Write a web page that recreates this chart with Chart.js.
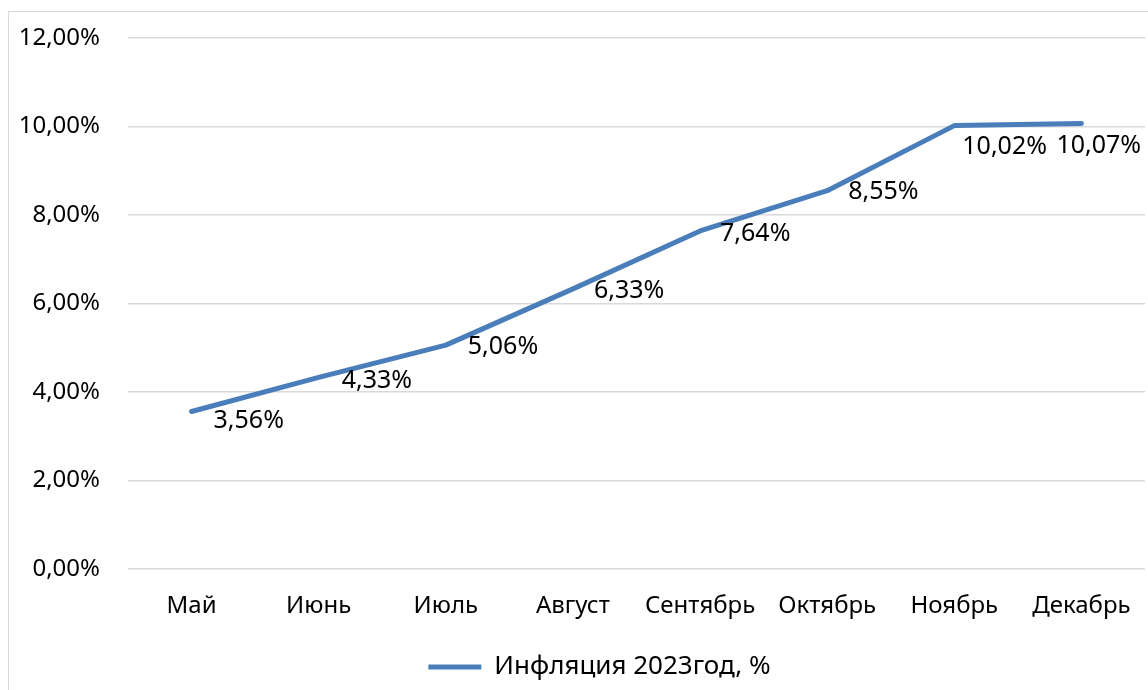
<!DOCTYPE html>
<html lang="ru">
<head>
<meta charset="utf-8">
<title>Инфляция 2023</title>
<script src="https://cdn.jsdelivr.net/npm/chart.js@4.4.0/dist/chart.umd.min.js"></script>
<style>
    html, body { margin: 0; padding: 0; background: #fff; }
    #wrap { position: relative; width: 1148px; height: 690px; overflow: hidden; }
    #frame { position: absolute; left: 8px; top: 11px; width: 1160px; height: 700px; border: 1px solid #d9d9d9; box-sizing: border-box; }
    #inflationChart { position: absolute; left: 0; top: 0; }
</style>
</head>
<body>
<div id="wrap">
    <div id="frame"></div>
    <canvas id="inflationChart" width="1148" height="690"></canvas>
</div>
<script>
const months = ['Май', 'Июнь', 'Июль', 'Август', 'Сентябрь', 'Октябрь', 'Ноябрь', 'Декабрь'];
const inflation = [3.56, 4.33, 5.06, 6.33, 7.64, 8.55, 10.02, 10.07];
const seriesName = 'Инфляция 2023год, %';

// label nudges (px) relative to the point, Excel-style "right" placement
const labelShift = [[22, 9], [23, 3], [22, 2], [21, 2], [20, 3], [21, 1], [8, 21], [-25, 22]];

const FONT = '"Noto Sans", "Open Sans", sans-serif';
const FONT_SIZE = 24;

function fmtPct(v) {
    return v.toFixed(2).replace('.', ',') + '%';
}

const pointLabels = {
    id: 'pointLabels',
    afterLayout(chart) {
        // Excel puts the legend a bit right of the canvas centre
        if (chart.legend) chart.legend.left += 54;
    },
    afterDatasetsDraw(chart) {
        const ctx = chart.ctx;
        const meta = chart.getDatasetMeta(0);
        ctx.save();
        ctx.font = '25px ' + FONT;
        ctx.fillStyle = '#000';
        ctx.textAlign = 'left';
        ctx.textBaseline = 'middle';
        meta.data.forEach((pt, i) => {
            const [dx, dy] = labelShift[i];
            ctx.fillText(fmtPct(inflation[i]), pt.x + dx, pt.y + dy);
        });
        ctx.restore();
    }
};

document.addEventListener('DOMContentLoaded', function() {
    const ctx = document.getElementById('inflationChart').getContext('2d');
    new Chart(ctx, {
        type: 'line',
        data: {
            labels: months,
            datasets: [{
                label: seriesName,
                data: inflation,
                borderColor: '#4a7ebb',
                backgroundColor: '#4a7ebb',
                borderWidth: 5,
                borderCapStyle: 'round',
                borderJoinStyle: 'round',
                pointRadius: 0,
                tension: 0,
                fill: false
            }]
        },
        plugins: [pointLabels],
        options: {
            responsive: false,
            animation: false,
            layout: { padding: { top: 38, right: 3, bottom: 0, left: 0 } },
            plugins: {
                tooltip: { enabled: false },
                legend: {
                    position: 'bottom',
                    labels: {
                        color: '#000',
                        font: { family: FONT, size: 26 },
                        boxWidth: 53,
                        boxHeight: 0,
                        padding: 9,
                        generateLabels: (chart) => [{
                            text: seriesName,
                            strokeStyle: '#4a7ebb',
                            fillStyle: '#4a7ebb',
                            lineWidth: 5,
                            lineCap: 'round',
                            datasetIndex: 0
                        }]
                    }
                }
            },
            scales: {
                x: {
                    offset: true,
                    grid: { display: false },
                    border: { display: false },
                    afterFit: (scale) => { scale.height = 76; },
                    ticks: { color: '#000', font: { family: FONT, size: FONT_SIZE }, padding: 15, maxRotation: 0 }
                },
                y: {
                    min: 0,
                    max: 12,
                    grid: { color: '#d9d9d9', lineWidth: 1.5, drawTicks: false },
                    border: { display: false },
                    afterFit: (scale) => {
                        scale.width = 128;
                        scale.paddingTop = 0;
                        scale.paddingBottom = 0;
                    },
                    ticks: {
                        stepSize: 2,
                        color: '#000',
                        padding: 28,
                        font: { family: FONT, size: FONT_SIZE },
                        callback: (v) => fmtPct(v)
                    }
                }
            }
        }
    });
});
</script>
</body>
</html>
